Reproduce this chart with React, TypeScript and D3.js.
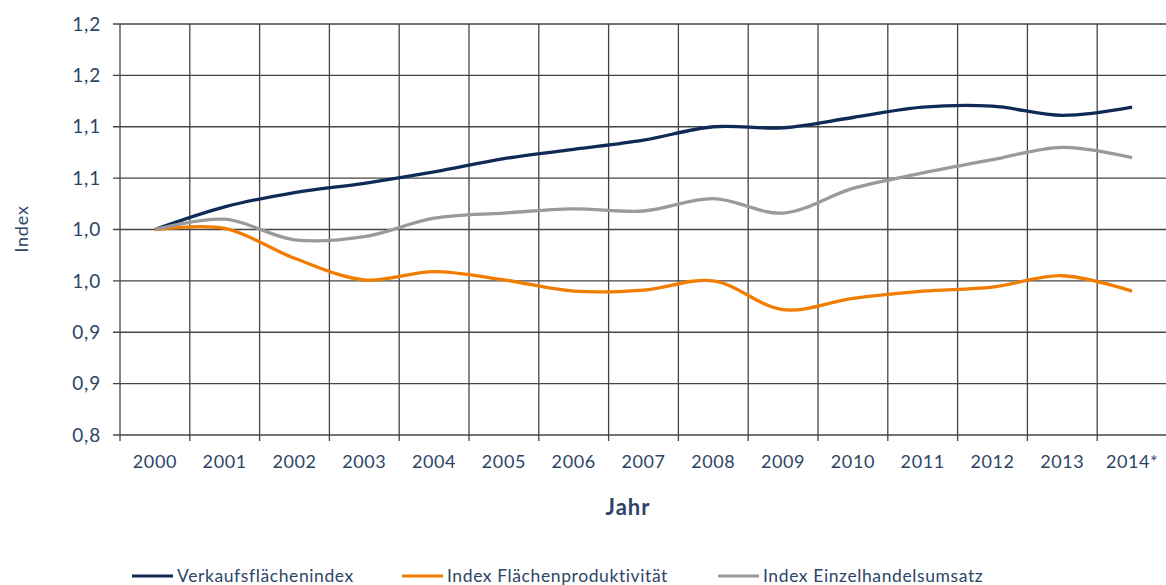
import React, { useEffect, useRef } from "react";
import * as d3 from "d3";

const years = ["2000","2001","2002","2003","2004","2005","2006","2007","2008","2009","2010","2011","2012","2013","2014*"];
const verkaufsflaeche = [1.0,1.022,1.036,1.045,1.056,1.069,1.078,1.087,1.1,1.099,1.109,1.119,1.12,1.111,1.119];
const flaechenproduktivitaet = [1.0,1.001,0.972,0.951,0.959,0.951,0.94,0.941,0.95,0.922,0.933,0.94,0.944,0.955,0.94];
const einzelhandelsumsatz = [1.0,1.01,0.99,0.993,1.011,1.016,1.02,1.018,1.03,1.016,1.04,1.055,1.068,1.08,1.07];
const yTicks = [0.8,0.85,0.9,0.95,1.0,1.05,1.1,1.15,1.2];
const yTickLabels = ["0,8","0,9","0,9","1,0","1,0","1,1","1,1","1,2","1,2"];
const seriesNames = ["Verkaufsflächenindex","Index Flächenproduktivität","Index Einzelhandelsumsatz"];
const colors = ["#0f2a56","#f07d00","#9a9a9a"];

export default function App() {
  const ref = useRef<SVGSVGElement>(null);
  useEffect(() => {
    const svg = d3.select(ref.current);
    svg.selectAll("*").remove();
    const left = 120, right = 1167, top = 24, bottom = 435;
    const x = d3.scaleBand().domain(years).range([left, right]);
    const y = d3.scaleLinear().domain([0.8, 1.2]).range([bottom, top]);
    const font = "Lato, 'Open Sans', sans-serif";
    const textColor = "#2c4566";
    const grid = svg.append("g");
    yTicks.forEach((t) => {
      grid.append("line").attr("x1", left - 7).attr("x2", 1166).attr("y1", y(t)).attr("y2", y(t))
        .attr("stroke", "#444").attr("stroke-width", 1.3);
    });
    const edges = years.map((yr) => x(yr)!);
    edges.forEach((e) => {
      grid.append("line").attr("x1", e).attr("x2", e).attr("y1", top).attr("y2", bottom + 6)
        .attr("stroke", "#444").attr("stroke-width", 1.3);
    });
    yTicks.forEach((t, i) => {
      svg.append("text").attr("x", 101).attr("y", y(t)).attr("dy", "0.35em").attr("text-anchor", "end")
        .attr("font-family", font).attr("font-size", 19).attr("letter-spacing", 0.8).attr("fill", textColor).text(yTickLabels[i]);
    });
    years.forEach((yr) => {
      svg.append("text").attr("x", x(yr)! + x.bandwidth() / 2).attr("y", 468).attr("text-anchor", "middle")
        .attr("font-family", font).attr("font-size", 18).attr("letter-spacing", 0.6).attr("fill", textColor).text(yr);
    });
    svg.append("text").attr("x", 628).attr("y", 515).attr("text-anchor", "middle")
      .attr("font-family", font).attr("font-size", 22).attr("letter-spacing", 1).attr("font-weight", "bold").attr("fill", textColor).text("Jahr");
    svg.append("text").attr("transform", "translate(28,229) rotate(-90)").attr("text-anchor", "middle")
      .attr("font-family", font).attr("font-size", 18).attr("letter-spacing", 0.8).attr("fill", textColor).text("Index");

    const line = d3.line<number>()
      .x((_, i) => x(years[i])! + x.bandwidth() / 2)
      .y((d) => y(d))
      .curve(d3.curveCatmullRom.alpha(0.5));
    [verkaufsflaeche, flaechenproduktivitaet, einzelhandelsumsatz].forEach((s, i) => {
      svg.append("path").attr("d", line(s)!).attr("fill", "none").attr("stroke", colors[i]).attr("stroke-width", 3.3);
    });
    // legend
    const legendX = [132, 402, 718];
    seriesNames.forEach((n, i) => {
      svg.append("line").attr("x1", legendX[i]).attr("x2", legendX[i] + 41).attr("y1", 576).attr("y2", 576)
        .attr("stroke", colors[i]).attr("stroke-width", 3);
      svg.append("text").attr("x", legendX[i] + 45).attr("y", 582)
        .attr("font-family", font).attr("font-size", 17.5).attr("letter-spacing", 0.6).attr("fill", textColor).text(n);
    });
  }, []);
  return (
    <svg ref={ref} width={1166} height={585} style={{ position: "absolute", left: 0, top: 0, background: "#fff" }} />
  );
}
